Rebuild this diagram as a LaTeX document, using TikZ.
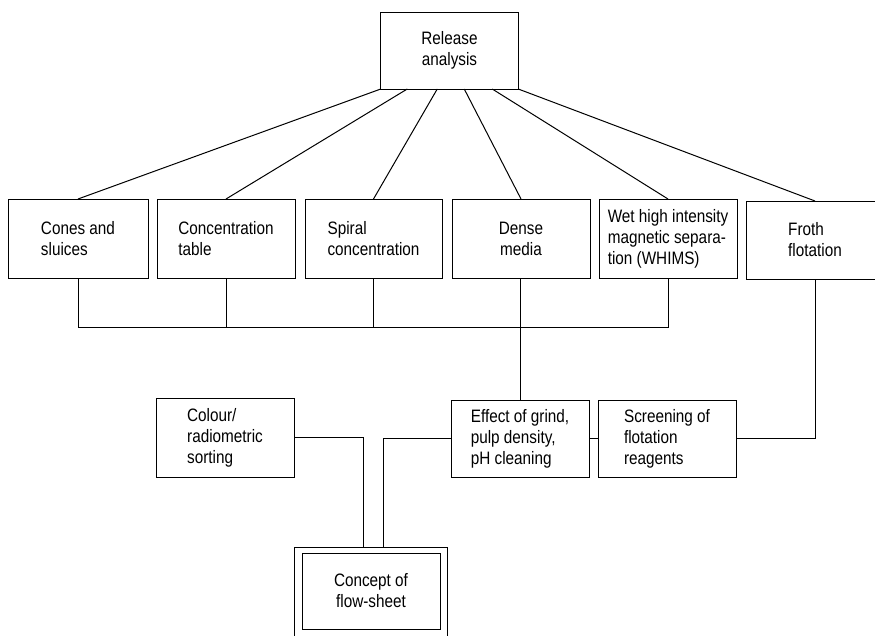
\documentclass[tikz,border=0pt]{standalone}
\usepackage{fontspec}
\setmainfont[FakeStretch=0.85]{Liberation Sans}
\usetikzlibrary{calc}
\tikzset{
  box/.style={draw, line width=1pt, minimum width=138pt, minimum height=78pt,
              inner sep=0pt, outer sep=0pt, align=left,
              font=\fontsize{18}{21}\selectfont},
  cbox/.style={box, align=center},
  link/.style={line width=1pt},
}
\begin{document}
\begin{tikzpicture}[x=1pt, y=-1pt]
\useasboundingbox (0,0) rectangle (875,635);
\clip (0,0) rectangle (875,635);

% top node
\node[cbox, minimum width=137.5pt, minimum height=77pt] (rel) at (449.5,50.5) {Release\\analysis};

% row of separation methods
\node[box, minimum width=140pt, minimum height=79pt] (cones) at (78,238.5) {Cones and\\sluices};
\node[box, minimum height=79pt] (ctab) at (226,238.5) {Concentration\\table};
\node[box, minimum width=137pt, minimum height=79pt] (spiral) at (373.5,238.5) {Spiral\\concentration};
\node[cbox, minimum height=79pt] (dense) at (521,238.5) {Dense\\media};
\node[box, minimum height=79pt] (whims) at (668,238.5) {Wet high intensity\\magnetic separa-\\tion (WHIMS)};
\node[box] (froth) at (815,240) {Froth\\flotation};

% lower row
\node[box, minimum height=79pt] (colour) at (225,437.5) {Colour/\\radiometric\\sorting};
\node[box, minimum height=77pt] (effect) at (520,438.5) {Effect of grind,\\pulp density,\\pH cleaning};
\node[box, minimum height=77pt] (screen) at (667,438.5) {Screening of\\flotation\\reagents};

% final node with double frame
\node[draw, line width=1pt, minimum width=153pt, minimum height=102pt, inner sep=0pt] (frame) at (370.5,598) {};
\node[cbox, minimum height=76pt] (concept) at (371,591) {Concept of\\flow-sheet};

% fan-out from the top node
\draw[link] (rel.south west) -- (cones.north);
\draw[link] ($(rel.south west)+(26.5,0)$) -- (ctab.north);
\draw[link] ($(rel.south west)+(56.5,0)$) -- (spiral.north);
\draw[link] ($(rel.south west)+(83.5,0)$) -- (dense.north);
\draw[link] ($(rel.south west)+(111.5,0)$) -- (whims.north);
\draw[link] (rel.south east) -- (froth.north);

% collecting bus
\coordinate (bus) at (0,327);
\draw[link] (cones.south) -- (cones.south |- bus) -- (whims.south |- bus) -- (whims.south);
\draw[link] (ctab.south) -- (ctab.south |- bus);
\draw[link] (spiral.south) -- (spiral.south |- bus);
\draw[link] ($(dense.south)+(-1,0)$) -- (effect.north);

% flotation branch
\draw[link] (froth.south) |- (screen.east);
\draw[link] (effect.east) -- (screen.west);

% into the flow-sheet
\coordinate (inL) at ($(frame.north)+(-7.5,0)$);
\coordinate (inR) at ($(frame.north)+(12.5,0)$);
\draw[link] (colour.east) -| (inL);
\draw[link] (effect.west) -| (inR);
\end{tikzpicture}
\end{document}
